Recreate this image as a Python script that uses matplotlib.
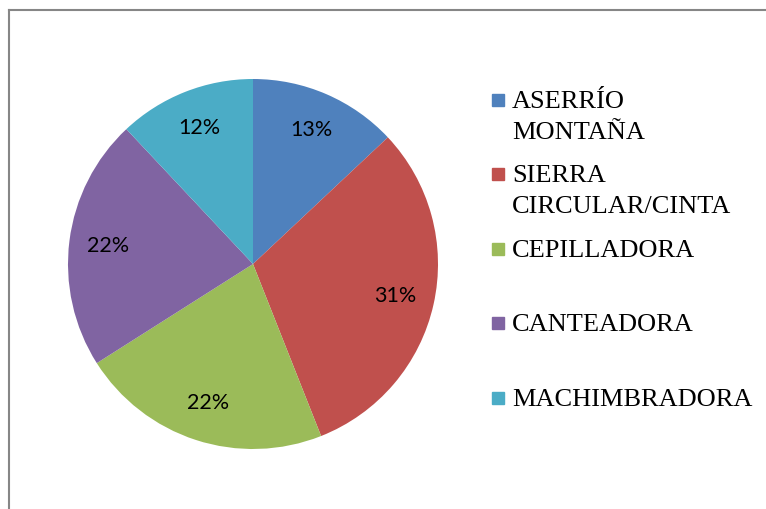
import matplotlib.pyplot as plt
from matplotlib.patches import Rectangle
from matplotlib.lines import Line2D

categories = [["ASERRÍO", "MONTAÑA"], ["SIERRA", "CIRCULAR/CINTA"], ["CEPILLADORA"],
              ["CANTEADORA"], ["MACHIMBRADORA"]]
shares = [13, 31, 22, 22, 12]
colors = ["#4F81BD", "#C0504D", "#9BBB59", "#8064A2", "#4BACC6"]

W, H = 766, 509
fig = plt.figure(figsize=(W / 100, H / 100), dpi=100)

# outer chart frame (only top/left visible in the crop)
fig.add_artist(Line2D([8.5 / W, 8.5 / W], [0, 1 - 10 / H], transform=fig.transFigure,
                      color="#868686", lw=1.5))
fig.add_artist(Line2D([8.5 / W, 1], [1 - 10 / H, 1 - 10 / H], transform=fig.transFigure,
                      color="#868686", lw=1.5))

cx, cy, r = 253, 264, 185
ax = fig.add_axes([(cx - r) / W, (H - cy - r) / H, 2 * r / W, 2 * r / H])
wedges, texts, autotexts = ax.pie(
    shares, colors=colors, startangle=90, counterclock=False,
    autopct="%d%%", pctdistance=0.79,
    wedgeprops=dict(linewidth=0),
    textprops=dict(fontsize=15.5, family=["Lato", "DejaVu Sans"], color="black"),
)
ax.set_xlim(-1, 1)
ax.set_ylim(-1, 1)
ax.set_aspect("equal")

# legend drawn by hand to match the uneven two-line entries
ys = [100, 174, 249, 323, 398]
for lines, col, y in zip(categories, colors, ys):
    fig.add_artist(Rectangle((492 / W, 1 - (y + 6) / H), 12 / W, 12 / H,
                             transform=fig.transFigure, color=col))
    for i, txt in enumerate(lines):
        fig.text(512 / W, 1 - (y + 8 + 31 * i) / H, txt, fontsize=19,
                 family="Liberation Serif", va="baseline", ha="left")

fig.savefig("out.png", dpi=100)
